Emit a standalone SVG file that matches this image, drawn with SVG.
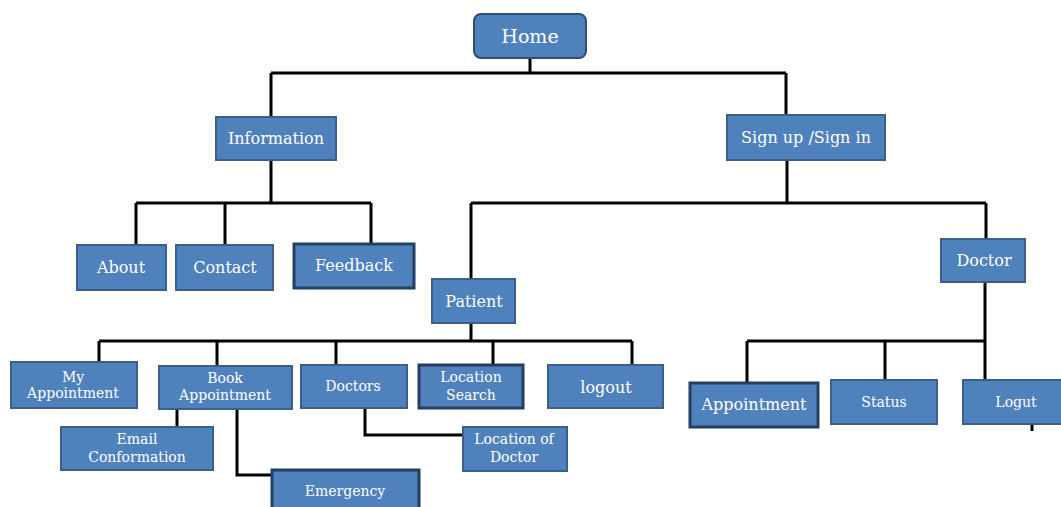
<svg xmlns="http://www.w3.org/2000/svg" width="1061" height="507" viewBox="0 0 1061 507">
<style>
.box{fill:#4F81BD;stroke:#3A5F8B;stroke-width:2}
.dark{fill:#4F81BD;stroke:#243F60;stroke-width:3}
.t{font-family:"DejaVu Serif","Liberation Serif",serif;fill:#fff;text-anchor:middle}
.l{font-size:16px}
.s{font-size:14px}
.c{fill:none;stroke:#000;stroke-width:3}
</style>
<rect width="1061" height="507" fill="#fff"/>
<g id="connectors">
<path class="c" d="M530,58V73M271,73H786M271,73V117M786,73V115"/>
<path class="c" d="M271,160V203M136,203H371M136,203V245M225,203V245M371,203V243"/>
<path class="c" d="M787,160V203M471,203H986M471,203V279M986,203V239"/>
<path class="c" d="M471,323V341M99,341H632M99,341V362M217,341V366M336,341V365M493,341V365M632,341V365"/>
<path class="c" d="M985,282V380M747,341H986M747,341V383M885,341V380"/>
<path class="c" d="M177,409V427M237,409V475H272"/>
<path class="c" d="M365,408V435H463"/>
<path class="c" d="M1032,424V431"/>
</g>
<g id="home"><rect x="474" y="14" width="112" height="44" rx="7" fill="#4F81BD" stroke="#2E4D73" stroke-width="2"/><text class="t" x="530" y="43" font-size="19">Home</text></g>
<g id="information"><rect class="box" x="216" y="117" width="120" height="43"/><text class="t l" x="276" y="144">Information</text></g>
<g id="signin"><rect class="box" x="727" y="115" width="158" height="45"/><text class="t l" x="806" y="143">Sign up /Sign in</text></g>
<g id="about"><rect class="box" x="77" y="245" width="89" height="45"/><text class="t l" x="121" y="273">About</text></g>
<g id="contact"><rect class="box" x="176" y="245" width="97" height="45"/><text class="t l" x="225" y="273">Contact</text></g>
<g id="feedback"><rect class="dark" x="294" y="244" width="120" height="44"/><text class="t l" x="354" y="271">Feedback</text></g>
<g id="patient"><rect class="box" x="432" y="279" width="83" height="44"/><text class="t l" x="474" y="307">Patient</text></g>
<g id="doctor"><rect class="box" x="941" y="239" width="84" height="43"/><text class="t l" x="984" y="266">Doctor</text></g>
<g id="my-appointment"><rect class="box" x="11" y="362" width="126" height="46"/><text class="t s" x="73" y="382">My</text><text class="t s" x="73" y="398">Appointment</text></g>
<g id="book-appointment"><rect class="box" x="159" y="366" width="133" height="43"/><text class="t s" x="225" y="383">Book</text><text class="t s" x="225" y="400">Appointment</text></g>
<g id="doctors"><rect class="box" x="301" y="365" width="106" height="43"/><text class="t s" x="353" y="391">Doctors</text></g>
<g id="location-search"><rect class="dark" x="419" y="365" width="104" height="43"/><text class="t s" x="471" y="382">Location</text><text class="t s" x="471" y="400">Search</text></g>
<g id="logout"><rect class="box" x="548" y="365" width="115" height="43"/><text class="t l" x="606" y="393">logout</text></g>
<g id="email"><rect class="box" x="61" y="427" width="152" height="43"/><text class="t s" x="137" y="444">Email</text><text class="t s" x="137" y="462">Conformation</text></g>
<g id="location-of-doctor"><rect class="box" x="463" y="427" width="104" height="44"/><text class="t s" x="514" y="444">Location of</text><text class="t s" x="514" y="462">Doctor</text></g>
<g id="emergency"><rect class="dark" x="272" y="470" width="147" height="45"/><text class="t s" x="345" y="496">Emergency</text></g>
<g id="appointment"><rect class="dark" x="690" y="383" width="128" height="44"/><text class="t l" x="754" y="410">Appointment</text></g>
<g id="status"><rect class="box" x="831" y="380" width="106" height="44"/><text class="t s" x="884" y="407">Status</text></g>
<g id="logut"><rect class="box" x="963" y="380" width="100" height="44"/><text class="t s" x="1016" y="407">Logut</text></g>
</svg>
